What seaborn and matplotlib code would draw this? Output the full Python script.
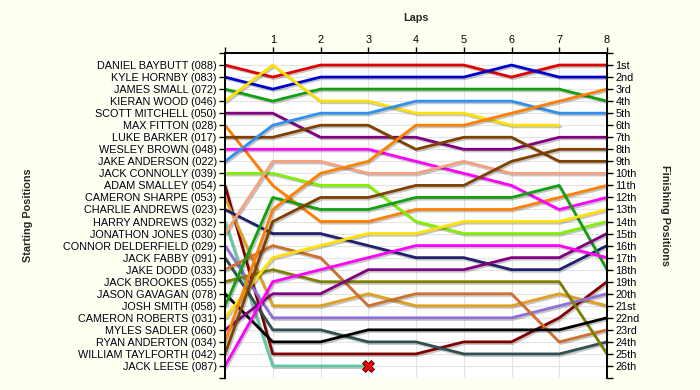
import matplotlib
matplotlib.use("Agg")
import matplotlib.pyplot as plt
import seaborn as sns
import pandas as pd
from matplotlib import patheffects as pe

drivers = [
    "DANIEL BAYBUTT (088)", "KYLE HORNBY (083)", "JAMES SMALL (072)", "KIERAN WOOD (046)",
    "SCOTT MITCHELL (050)", "MAX FITTON (028)", "LUKE BARKER (017)", "WESLEY BROWN (048)",
    "JAKE ANDERSON (022)", "JACK CONNOLLY (039)", "ADAM SMALLEY (054)", "CAMERON SHARPE (053)",
    "CHARLIE ANDREWS (023)", "HARRY ANDREWS (032)", "JONATHON JONES (030)",
    "CONNOR DELDERFIELD (029)", "JACK FABBY (091)", "JAKE DODD (033)", "JACK BROOKES (055)",
    "JASON GAVAGAN (078)", "JOSH SMITH (058)", "CAMERON ROBERTS (031)", "MYLES SADLER (060)",
    "RYAN ANDERTON (034)", "WILLIAM TAYLFORTH (042)", "JACK LEESE (087)",
]

colors = [
    "#E00000", "#0000CC", "#10A010", "#FFE000", "#800080", "#FF8000", "#804000",
    "#FF00FF", "#3090F0", "#80F000", "#800000", "#E0A020", "#202070", "#60C8A0",
    "#F8A080", "#9070D8", "#305050", "#D07030", "#808000", "#000000",
    "#10A010", "#FFE000", "#800080", "#FF8000", "#804000", "#FF00FF",
]

lap_numbers = [0, 1, 2, 3, 4, 5, 6, 7, 8]
N = None
lap0 = [1, 2, 3, 4, 5, 6, 7, 8, 9, 10, 11, 12, 13, 14, 15, 16, 17, 18, 19, 20, 21, 22, 23, 24, 25, 26]
lap1 = [2, 3, 4, 1, 5, 11, 7, 8, 6, 10, 25, 21, 15, 26, 9, 22, 23, 16, 18, 24, 12, 17, 20, 13, 14, 19]
lap2 = [1, 2, 3, 4, 7, 14, 6, 8, 5, 11, 25, 21, 15, 26, 9, 22, 23, 17, 19, 24, 13, 16, 20, 10, 12, 18]
lap3 = [1, 2, 3, 4, 7, 14, 6, 8, 5, 11, 25, 20, 16, 26, 10, 22, 24, 21, 19, 23, 13, 15, 18, 9, 12, 17]
lap4 = [1, 2, 3, 5, 7, 13, 8, 9, 4, 14, 25, 21, 17, N, 10, 22, 24, 20, 19, 23, 12, 15, 18, 6, 11, 16]
lap5 = [1, 2, 3, 5, 8, 13, 7, 10, 4, 15, 24, 21, 17, N, 9, 22, 25, 20, 19, 23, 12, 14, 18, 6, 11, 16]
lap6 = [2, 1, 3, 6, 8, 13, 7, 11, 4, 15, 24, 21, 18, N, 10, 22, 25, 20, 19, 23, 12, 14, 17, 5, 9, 16]
lap7 = [1, 2, 3, 6, 7, 12, 9, 13, 5, 15, 22, 20, 18, N, 10, 21, 25, 24, 19, 23, 11, 14, 17, 4, 8, 16]
lap8 = [1, 2, 4, N, 7, 11, 9, 12, 5, 14, 19, 21, 16, N, 10, 20, 24, 23, 25, 22, 18, 13, 15, 3, 8, 17]

retired_lap = [3]
retired_pos = [26]

finish_labels = ["1st", "2nd", "3rd", "4th", "5th", "6th", "7th", "8th", "9th", "10th",
                 "11th", "12th", "13th", "14th", "15th", "16th", "17th", "18th", "19th",
                 "20th", "21st", "22nd", "23rd", "24th", "25th", "26th"]

laps = [lap0, lap1, lap2, lap3, lap4, lap5, lap6, lap7, lap8]
rows = []
for i, d in enumerate(drivers):
    for lap, vals in zip(lap_numbers, laps):
        if vals[i] is not None:
            rows.append((d, lap, vals[i]))
df = pd.DataFrame(rows, columns=["driver", "lap", "pos"])

sns.set_theme(style="white")
plt.rcParams["font.family"] = ["Liberation Sans", "DejaVu Sans"]

fig = plt.figure(figsize=(7, 3.9), dpi=100, facecolor="#FFFFF2")
ax = fig.add_axes([225 / 700, 1 - 378 / 390, 382 / 700, 325 / 390])
ax.set_facecolor("white")

sns.lineplot(data=df, x="lap", y="pos", hue="driver", hue_order=drivers,
             palette=colors, legend=False, linewidth=2.0, estimator=None,
             sort=False, ax=ax)
for ln in ax.lines:
    ln.set_path_effects([pe.SimpleLineShadow(offset=(1.0, -1.2), shadow_color="k", alpha=0.25),
                         pe.Normal()])

sns.scatterplot(x=retired_lap, y=retired_pos, marker="X", s=70, color="#FF0000",
                edgecolor="#600000", linewidth=0.8, ax=ax, zorder=5, legend=False)

ax.set_xlim(0, 8)
ax.set_ylim(27, 0)
ax.xaxis.tick_top()
ax.set_xticks(lap_numbers)
ax.set_xticklabels([""] + [str(v) for v in lap_numbers[1:]])
ax.set_yticks(range(0, 28))
ax.set_yticklabels([""] + drivers + [""])
ax.set_xlabel("")
ax.set_ylabel("")
ax.grid(True, color="#E4E4E4", linewidth=0.8)
ax.set_axisbelow(True)

ax2 = ax.twinx()
ax2.set_ylim(27, 0)
ax2.set_yticks(range(0, 28))
ax2.set_yticklabels([""] + finish_labels + [""])
ax2.grid(False)

for a in (ax, ax2):
    a.spines["bottom"].set_visible(False)
    for s in ("left", "right", "top"):
        a.spines[s].set_color("black")
        a.spines[s].set_linewidth(1.2)
    a.tick_params(axis="both", which="major", direction="out", length=4, width=1,
                  color="black", labelsize=7.8, labelcolor="#000010", pad=2)
ax.tick_params(axis="x", bottom=False, top=True, labelbottom=False, labeltop=True)
ax.tick_params(axis="y", left=True, right=False)
ax2.tick_params(axis="y", left=False, right=True)

fig.text(416 / 700, 1 - 18 / 390, "Laps", ha="center", va="center",
         fontsize=7.8, fontweight="bold")
fig.text(28 / 700, 1 - 215 / 390, "Starting Positions", ha="center", va="center",
         rotation=90, fontsize=7.8, fontweight="bold")
fig.text(665 / 700, 1 - 215 / 390, "Finishing Positions", ha="center", va="center",
         rotation=270, fontsize=7.8, fontweight="bold")

fig.savefig("out.png", dpi=100, facecolor=fig.get_facecolor())
